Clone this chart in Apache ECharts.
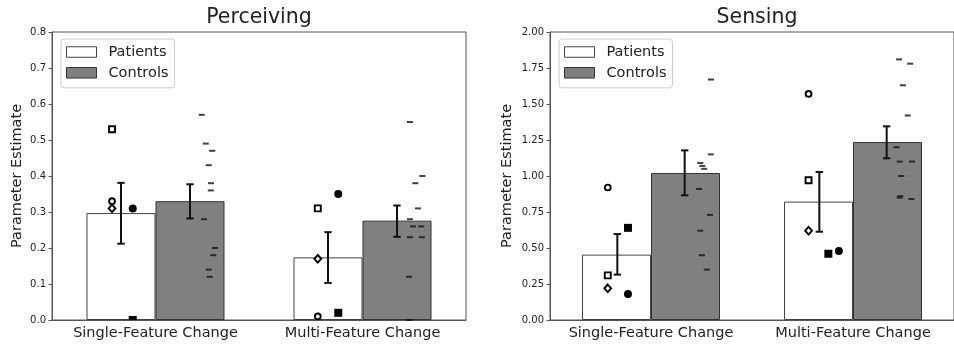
<!DOCTYPE html>
<html>
<head>
<meta charset="utf-8">
<script src="https://cdn.jsdelivr.net/npm/echarts@6/dist/echarts.min.js"></script>
<style>html,body{margin:0;padding:0;background:#fff;}#chart{width:954px;height:350px;}</style>
</head>
<body>
<div id="chart"></div>
<script>
// ---- data ----
const categories = ['Single-Feature Change', 'Multi-Feature Change'];
const panelTitles = ['Perceiving', 'Sensing'];
const perceivingTicks = [0, 0.8, 0.1];
const sensingTicks = [0, 2, 0.25];

const perceivingPatientMean = [0.297, 0.174];
const perceivingControlMean = [0.330, 0.276];
const perceivingPatientErrLow = [0.212, 0.103];
const perceivingPatientErrHigh = [0.381, 0.244];
const perceivingControlErrLow = [0.282, 0.231];
const perceivingControlErrHigh = [0.377, 0.318];

const sensingPatientMean = [0.454, 0.822];
const sensingControlMean = [1.021, 1.236];
const sensingPatientErrLow = [0.315, 0.613];
const sensingPatientErrHigh = [0.597, 1.028];
const sensingControlErrLow = [0.866, 1.123];
const sensingControlErrHigh = [1.178, 1.345];

// patient markers: open square, open circle, open diamond, filled circle, filled square
const markerTypes = [0, 1, 2, 3, 4];
const perceivingSinglePatients = [0.53, 0.33, 0.31, 0.31, 0.00];
const perceivingMultiPatients = [0.31, 0.01, 0.17, 0.35, 0.02];
const sensingSinglePatients = [0.31, 0.92, 0.22, 0.18, 0.64];
const sensingMultiPatients = [0.97, 1.57, 0.62, 0.48, 0.46];
const perceivingSinglePatientJitter = [-0.21, -0.21, -0.21, -0.11, -0.11];
const perceivingMultiPatientJitter = [-0.216, -0.216, -0.216, -0.117, -0.117];
const sensingSinglePatientJitter = [-0.214, -0.214, -0.214, -0.114, -0.114];
const sensingMultiPatientJitter = [-0.22, -0.22, -0.22, -0.07, -0.122];

// control individual values (dashes)
const perceivingSingleControls = [0.57, 0.49, 0.47, 0.43, 0.38, 0.36, 0.28, 0.20, 0.18, 0.14, 0.12];
const perceivingSingleControlJitter = [0.223, 0.243, 0.274, 0.257, 0.268, 0.267, 0.234, 0.287, 0.279, 0.257, 0.262];
const perceivingMultiControls = [0.55, 0.40, 0.38, 0.31, 0.28, 0.26, 0.26, 0.23, 0.23, 0.12, 0.00];
const perceivingMultiControlJitter = [0.229, 0.289, 0.255, 0.268, 0.229, 0.244, 0.284, 0.229, 0.287, 0.225, 0.227];
const sensingSingleControls = [1.67, 1.15, 1.09, 1.07, 1.05, 0.91, 0.73, 0.62, 0.45, 0.35];
const sensingSingleControlJitter = [0.297, 0.296, 0.244, 0.254, 0.263, 0.238, 0.292, 0.244, 0.252, 0.276];
const sensingMultiControls = [1.81, 1.78, 1.63, 1.42, 1.20, 1.10, 1.10, 1.00, 0.86, 0.85, 0.84];
const sensingMultiControlJitter = [0.228, 0.283, 0.247, 0.271, 0.215, 0.231, 0.292, 0.239, 0.234, 0.231, 0.289];

// ---- build ----
const FONT = 'DejaVu Sans';
const AXIS = '#555';
const TEXT = '#222';
const BAR_OFF = 1 / 6;

function errData(pLo, pHi, cLo, cHi) {
  const d = [];
  for (let i = 0; i < categories.length; i++) {
    d.push([i - BAR_OFF, pLo[i], pHi[i]]);
    d.push([i + BAR_OFF, cLo[i], cHi[i]]);
  }
  return d;
}
function pointData(catIdx, vals, jit, types) {
  return vals.map((v, k) => types ? [catIdx + jit[k], v, types[k]] : [catIdx + jit[k], v]);
}
function renderErr(params, api) {
  const x = api.value(0);
  const a = api.coord([x, api.value(1)]);
  const b = api.coord([x, api.value(2)]);
  const w = 3.7;
  const st = { stroke: '#111', lineWidth: 2 };
  return {
    type: 'group',
    children: [
      { type: 'line', shape: { x1: a[0], y1: a[1], x2: b[0], y2: b[1] }, style: st },
      { type: 'line', shape: { x1: a[0] - w, y1: a[1], x2: a[0] + w, y2: a[1] }, style: st },
      { type: 'line', shape: { x1: b[0] - w, y1: b[1], x2: b[0] + w, y2: b[1] }, style: st }
    ]
  };
}
function renderMarker(params, api) {
  const p = api.coord([api.value(0), api.value(1)]);
  const t = api.value(2);
  const x = p[0], y = p[1];
  const open = { fill: '#fff', stroke: '#000', lineWidth: 1.9 };
  const filled = { fill: '#000' };
  if (t === 0) return { type: 'rect', shape: { x: x - 3, y: y - 3, width: 6, height: 6 }, style: open };
  if (t === 1) return { type: 'circle', shape: { cx: x, cy: y, r: 2.9 }, style: open };
  if (t === 2) return { type: 'polygon', shape: { points: [[x, y - 3.8], [x + 3.4, y], [x, y + 3.8], [x - 3.4, y]] }, style: open };
  if (t === 3) return { type: 'circle', shape: { cx: x, cy: y, r: 4 }, style: filled };
  return { type: 'rect', shape: { x: x - 4, y: y - 4, width: 8, height: 8 }, style: filled };
}

const grids = [
  { left: 52, top: 32, width: 414, height: 288 },
  { left: 550, top: 32, width: 414, height: 288 }
];
const gridOpts = grids.map(g => Object.assign({ show: true, borderColor: AXIS, borderWidth: 1, backgroundColor: 'transparent' }, g));

const xAxes = [];
const yAxes = [];
const ticks = [perceivingTicks, sensingTicks];
const yGaps = [27, 35];
for (let gi = 0; gi < 2; gi++) {
  xAxes.push({
    type: 'category', gridIndex: gi, data: categories,
    axisLine: { onZero: false, lineStyle: { color: AXIS, width: 1 } },
    axisTick: { alignWithLabel: true, interval: 0, length: 3.5, lineStyle: { color: AXIS } },
    axisLabel: { interval: 0, fontFamily: FONT, fontSize: 14.5, color: TEXT, margin: 6 },
    splitLine: { show: false }
  });
  xAxes.push({ type: 'value', gridIndex: gi, min: -0.5, max: 1.5, show: false, axisLine: { onZero: false } });
  const dec = gi === 0 ? 1 : 2;
  yAxes.push({
    type: 'value', gridIndex: gi, min: ticks[gi][0], max: ticks[gi][1], interval: ticks[gi][2],
    name: 'Parameter Estimate', nameLocation: 'middle', nameRotate: 90, nameGap: yGaps[gi],
    nameTextStyle: { fontFamily: FONT, fontSize: 14.5, color: TEXT },
    axisLine: { show: true, onZero: false, lineStyle: { color: AXIS, width: 1 } },
    axisTick: { show: true, length: 3.5, lineStyle: { color: AXIS } },
    axisLabel: { fontFamily: FONT, fontSize: 10, color: TEXT, margin: 6, formatter: v => v.toFixed(dec) },
    splitLine: { show: false }
  });
}

const patientStyle = { color: '#ffffff', borderColor: '#444', borderWidth: 1 };
const controlStyle = { color: '#808080', borderColor: '#333', borderWidth: 1 };

const panels = [
  {
    pm: perceivingPatientMean, cm: perceivingControlMean,
    err: errData(perceivingPatientErrLow, perceivingPatientErrHigh, perceivingControlErrLow, perceivingControlErrHigh),
    markers: pointData(0, perceivingSinglePatients, perceivingSinglePatientJitter, markerTypes)
      .concat(pointData(1, perceivingMultiPatients, perceivingMultiPatientJitter, markerTypes)),
    dashes: pointData(0, perceivingSingleControls, perceivingSingleControlJitter)
      .concat(pointData(1, perceivingMultiControls, perceivingMultiControlJitter))
  },
  {
    pm: sensingPatientMean, cm: sensingControlMean,
    err: errData(sensingPatientErrLow, sensingPatientErrHigh, sensingControlErrLow, sensingControlErrHigh),
    markers: pointData(0, sensingSinglePatients, sensingSinglePatientJitter, markerTypes)
      .concat(pointData(1, sensingMultiPatients, sensingMultiPatientJitter, markerTypes)),
    dashes: pointData(0, sensingSingleControls, sensingSingleControlJitter)
      .concat(pointData(1, sensingMultiControls, sensingMultiControlJitter))
  }
];

const series = [];
panels.forEach((p, gi) => {
  series.push({ type: 'bar', name: 'Patients', xAxisIndex: gi * 2, yAxisIndex: gi, data: p.pm, barWidth: 69, barGap: '0%', itemStyle: patientStyle, z: 2, silent: true });
  series.push({ type: 'bar', name: 'Controls', xAxisIndex: gi * 2, yAxisIndex: gi, data: p.cm, barWidth: 69, barGap: '0%', itemStyle: controlStyle, z: 2, silent: true });
  series.push({ type: 'scatter', name: 'ctrl-dash', xAxisIndex: gi * 2 + 1, yAxisIndex: gi, data: p.dashes, symbol: 'rect', symbolSize: [6, 2], itemStyle: { color: '#111' }, z: 4, silent: true });
  series.push({ type: 'custom', name: 'pt-marker', xAxisIndex: gi * 2 + 1, yAxisIndex: gi, data: p.markers, renderItem: renderMarker, clip: true, z: 4, silent: true, encode: { x: 0, y: 1 } });
  series.push({ type: 'custom', name: 'err', xAxisIndex: gi * 2 + 1, yAxisIndex: gi, data: p.err, renderItem: renderErr, z: 5, silent: true, encode: { x: 0, y: [1, 2] } });
});

const legendData = [
  { name: 'Patients', itemStyle: patientStyle },
  { name: 'Controls', itemStyle: controlStyle }
];
const legends = [61, 559].map(l => ({
  left: l, top: 39, orient: 'vertical', icon: 'rect', itemWidth: 30, itemHeight: 10.5, itemGap: 4.8,
  padding: [5, 6, 7, 5], borderColor: '#cccccc', borderWidth: 1, borderRadius: 3, backgroundColor: '#fff',
  selectedMode: false, data: legendData,
  textStyle: { fontFamily: FONT, fontSize: 14.5, color: TEXT, lineHeight: 16, padding: [0, 0, 0, 7] }
}));

const titles = panelTitles.map((t, gi) => ({
  text: t, left: grids[gi].left + grids[gi].width / 2, textAlign: 'center', top: 7, padding: 0,
  textStyle: { fontFamily: FONT, fontSize: 20.5, fontWeight: 'normal', color: TEXT }
}));

const chart = echarts.init(document.getElementById('chart'), null, { renderer: 'canvas' });
chart.setOption({
  animation: false,
  backgroundColor: '#ffffff',
  title: titles,
  legend: legends,
  grid: gridOpts,
  xAxis: xAxes,
  yAxis: yAxes,
  series: series
});
</script>
</body>
</html>
